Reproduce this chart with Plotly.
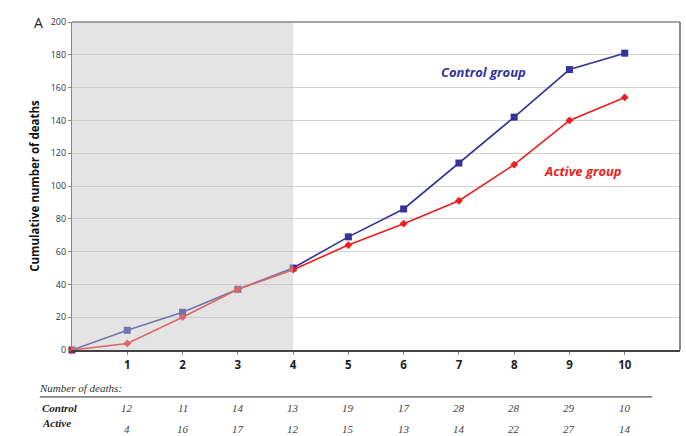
import plotly.graph_objects as go

interval = [0, 1, 2, 3, 4, 5, 6, 7, 8, 9, 10]
control_cum = [0, 12, 23, 37, 50, 69, 86, 114, 142, 171, 181]
active_cum = [0, 4, 20, 37, 49, 64, 77, 91, 113, 140, 154]
periods = [1, 2, 3, 4, 5, 6, 7, 8, 9, 10]
control_deaths = [12, 11, 14, 13, 19, 17, 28, 28, 29, 10]
active_deaths = [4, 16, 17, 12, 15, 13, 14, 22, 27, 14]
y_ticks = list(range(0, 201, 20))

BLUE = "#33339a"
RED = "#ee1c1c"
SANS = "Open Sans, Liberation Sans, sans-serif"
SERIF = "Liberation Serif, DejaVu Serif, serif"

fig = go.Figure()
fig.add_trace(go.Scatter(x=interval, y=control_cum, mode="lines+markers",
                         line=dict(color=BLUE, width=1.6),
                         marker=dict(symbol="square", size=7, color=BLUE),
                         cliponaxis=False, showlegend=False))
fig.add_trace(go.Scatter(x=interval, y=active_cum, mode="lines+markers",
                         line=dict(color=RED, width=1.6),
                         marker=dict(symbol="diamond", size=6, color=RED),
                         cliponaxis=False, showlegend=False))

# shaded region overlay (lines appear faded beneath it)
fig.add_shape(type="rect", xref="x", yref="y", x0=0, x1=4, y0=0, y1=200,
              fillcolor="rgba(195,195,195,0.45)", line=dict(width=0), layer="above")
# box border top & right
fig.add_shape(type="line", xref="paper", yref="paper", x0=0, x1=1, y0=1, y1=1,
              line=dict(color="#888888", width=1.5))
fig.add_shape(type="line", xref="paper", yref="paper", x0=1, x1=1, y0=0, y1=1,
              line=dict(color="#666666", width=1.5))

# table separator line
fig.add_shape(type="line", xref="paper", yref="paper", x0=-0.053, x1=0.954,
              y0=-0.143, y1=-0.143, line=dict(color="#555555", width=1.3))

ann = []
ann.append(dict(text="A", xref="paper", yref="paper", x=-0.045, y=1.0,
                xanchor="right", yanchor="middle", showarrow=False,
                font=dict(family=SANS, size=14, color="#222222")))
ann.append(dict(text="<b><i>Control group</i></b>", xref="x", yref="y", x=7.45, y=169.5,
                showarrow=False, xanchor="center", yanchor="middle",
                font=dict(family=SANS, size=13, color=BLUE)))
ann.append(dict(text="<b><i>Active group</i></b>", xref="x", yref="y", x=9.25, y=109,
                showarrow=False, xanchor="center", yanchor="middle",
                font=dict(family=SANS, size=13, color=RED)))
ann.append(dict(text="<i>Number of deaths:</i>", xref="paper", yref="paper", x=-0.058, y=-0.116,
                showarrow=False, xanchor="left", yanchor="middle",
                font=dict(family=SERIF, size=11, color="#333333")))
ann.append(dict(text="<b><i>Control</i></b>", xref="paper", yref="paper", x=-0.052, y=-0.177,
                showarrow=False, xanchor="left", yanchor="middle",
                font=dict(family=SERIF, size=11, color="#222222")))
ann.append(dict(text="<b><i>Active</i></b>", xref="paper", yref="paper", x=-0.052, y=-0.224,
                showarrow=False, xanchor="left", yanchor="middle",
                font=dict(family=SERIF, size=11, color="#222222")))
for p, c, a in zip(periods, control_deaths, active_deaths):
    ann.append(dict(text=f"<i>{c}</i>", xref="x", yref="paper", x=p, y=-0.177,
                    showarrow=False, yanchor="middle",
                    font=dict(family=SERIF, size=11, color="#444444")))
    ann.append(dict(text=f"<i>{a}</i>", xref="x", yref="paper", x=p, y=-0.241,
                    showarrow=False, yanchor="middle",
                    font=dict(family=SERIF, size=11, color="#444444")))

fig.update_layout(
    width=686, height=436,
    margin=dict(l=72, r=6, t=22, b=86),
    plot_bgcolor="white", paper_bgcolor="white",
    annotations=ann,
    xaxis=dict(range=[0, 11], tickvals=periods, ticktext=[f"<b>{p}</b>" for p in periods],
               automargin=False,
               showgrid=False, zeroline=False, showline=True, linecolor="#444444", linewidth=1.5,
               ticks="outside", ticklen=3, tickcolor="#888888",
               tickfont=dict(family=SANS, size=11.5, color="#222222")),
    yaxis=dict(range=[0, 200], tickvals=y_ticks, showgrid=True, gridcolor="#d4d4d4", gridwidth=1,
               automargin=False,
               zeroline=False, showline=True, linecolor="#888888", linewidth=1.2,
               ticks="outside", ticklen=3, tickcolor="#888888",
               tickfont=dict(family=SANS, size=9, color="#333333"),
               title=dict(text="<b>Cumulative number of deaths</b>", standoff=8,
                          font=dict(family=SANS, size=11.5, color="#111111"))),
)

fig.write_html("out.html", config={"displayModeBar": False},
               post_script="document.body.style.margin='0';document.body.style.overflow='hidden';")
